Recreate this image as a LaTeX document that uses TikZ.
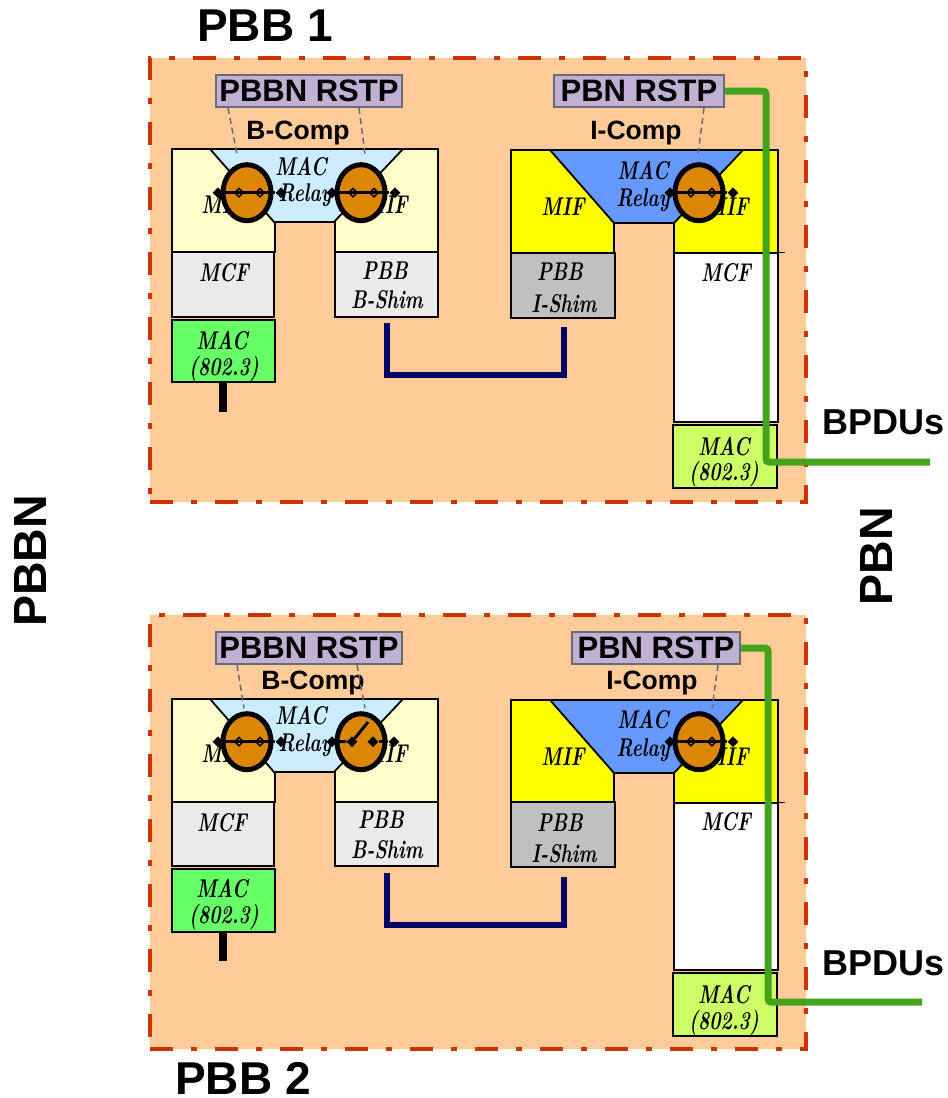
\documentclass[tikz,border=0pt]{standalone}
\usepackage{fontspec}
\newfontfamily\labelfont{Liberation Sans}
\definecolor{pborange}{RGB}{255,204,153}
\definecolor{pbred}{RGB}{204,51,0}
\definecolor{pbviolet}{RGB}{192,176,212}
\definecolor{pbgray}{RGB}{105,105,120}
\definecolor{pbgreen}{RGB}{68,163,28}
\definecolor{pbnavy}{RGB}{0,0,102}
\definecolor{swamber}{RGB}{219,135,5}
\definecolor{cream}{RGB}{255,255,204}
\definecolor{paleblue}{RGB}{204,236,255}
\definecolor{midblue}{RGB}{102,153,255}
\definecolor{pureyellow}{RGB}{255,255,0}
\definecolor{macgreen}{RGB}{102,255,102}
\definecolor{maclime}{RGB}{204,255,102}
\definecolor{mcfgray}{RGB}{234,234,234}
\definecolor{shimgray}{RGB}{192,192,192}
\usetikzlibrary{arrows.meta,positioning,shapes.geometric,calc}
\tikzset{
  panelbox/.style={draw=pbred, fill=pborange, line width=4pt, dash pattern=on 23pt off 18pt on 6pt off 18pt, minimum width=656pt, inner sep=0pt},
  rstpbox/.style={draw=pbgray, fill=pbviolet, line width=2pt, minimum height=32pt, inner sep=0pt, font=\labelfont\bfseries\fontsize{31}{31}\selectfont},
  bigtitle/.style={font=\labelfont\bfseries\fontsize{46}{46}\selectfont, inner sep=0pt},
  sidetitle/.style={font=\labelfont\bfseries\fontsize{46.5}{46.5}\selectfont, inner sep=0pt, rotate=90},
  comptitle/.style={font=\labelfont\bfseries\fontsize{26.5}{26.5}\selectfont, inner sep=0pt},
  bpdutitle/.style={font=\labelfont\bfseries\fontsize{36}{36}\selectfont, inner sep=0pt},
  scriptlabel/.style={font=\bfseries\itshape\fontsize{19}{19}\selectfont, inner sep=0pt, yscale=1.35, transform shape},
  stackbox/.style={draw=black, line width=1.8pt, inner sep=0pt},
  ubox/.style={draw=black, line width=1.8pt},
  switchbody/.style={ellipse, draw=black, fill=swamber, line width=5pt, minimum width=48pt, minimum height=56pt, inner sep=0pt},
  pinend/.style={diamond, fill=black, minimum size=11pt, inner sep=0pt},
  pinmid/.style={diamond, draw=black, fill=swamber, line width=1.5pt, minimum size=9pt, inner sep=0pt},
  contact/.style={line width=3pt, black},
  rstplink/.style={draw=pbgray, line width=1.5pt, dash pattern=on 6pt off 4pt},
  bpduline/.style={draw=pbgreen, line width=7pt, rounded corners=3pt},
  shimlink/.style={draw=pbnavy, line width=6pt},
}
\begin{document}
\begin{tikzpicture}[x=1pt, y=-1pt]
  \useasboundingbox (0,0) rectangle (948,1098);
  \fill[white] (0,0) rectangle (948,1098);
  % panels
  \node[panelbox, minimum height=444pt] (pbbone) at (478,280) {};
  \node[panelbox, minimum height=434pt] (pbbtwo) at (478,832) {};
  \node[bigtitle] (titleone) at (265,26) {PBB 1};
  \node[bigtitle] (titletwo) at (243,1078) {PBB 2};
  \node[sidetitle] (pbbn) at (31,561) {PBBN};
  \node[sidetitle] (pbn) at (876,556) {PBN};

  % PBB 1 B-Comp
  \draw[ubox, fill=cream] (172,149) -- (438,149) -- (438,252) -- (335,252) -- (335,222) -- (275,222) -- (275,252) -- (172,252) -- cycle;
  \draw[ubox, fill=paleblue] (210,149) -- (403,149) -- (334,222) -- (274,222) -- cycle;
  \node[stackbox, fill=mcfgray, minimum width=102pt, minimum height=65pt] (mcfb) at (223,284.5) {};
  \node[stackbox, fill=mcfgray, minimum width=103pt, minimum height=65pt] (bshim) at (386.5,284.5) {};
  \node[stackbox, fill=macgreen, minimum width=103pt, minimum height=62pt] (macb) at (223.5,351) {};
  \node[scriptlabel] (mifba) at (223,205) {MIF};
  \node[scriptlabel] (mifbb) at (386,205) {MIF};
  \node[scriptlabel] (relaya) at (301,167) {MAC};
  \node[scriptlabel] (relayb) at (305,195) {Relay};
  \node[scriptlabel] (mcfbt) at (224,273) {MCF};
  \node[scriptlabel] (shimat) at (385,271) {PBB};
  \node[scriptlabel] (shimbt) at (387,300) {B-Shim};
  \node[scriptlabel] (macba) at (222,341) {MAC};
  \node[scriptlabel] (macbb) at (224,369) {(802.3)};
  \fill[black] (219,382) rectangle (227,412);
  % PBB 1 I-Comp
  \draw[ubox, fill=pureyellow] (511,150) -- (778,150) -- (778,253) -- (674,253) -- (674,223) -- (614,223) -- (614,253) -- (511,253) -- cycle;
  \draw[ubox, fill=midblue] (550,150) -- (743,150) -- (674,223) -- (614,223) -- cycle;
  \node[stackbox, fill=shimgray, minimum width=104pt, minimum height=65pt] (ishim) at (563,285.5) {};
  \node[stackbox, fill=white, minimum width=104pt, minimum height=169pt] (mcfi) at (726,337.5) {};
  \node[stackbox, fill=maclime, minimum width=104pt, minimum height=63pt] (maci) at (725,456.5) {};
  \draw[black, line width=1.2pt] (mcfi.north east) -- ++(6,0);
  \node[scriptlabel] (mifia) at (563,207) {MIF};
  \node[scriptlabel] (mifib) at (727,207) {MIF};
  \node[scriptlabel] (relayc) at (643,171) {MAC};
  \node[scriptlabel] (relayd) at (643,200) {Relay};
  \node[scriptlabel] (shimct) at (560,272) {PBB};
  \node[scriptlabel] (shimdt) at (564,304) {I-Shim};
  \node[scriptlabel] (mcfit) at (726,273) {MCF};
  \node[scriptlabel] (macia) at (724,447) {MAC};
  \node[scriptlabel] (macib) at (724,474) {(802.3)};
  \coordinate (linkb) at (386.5,323);
  \coordinate (linki) at (564,327);
  \draw[shimlink] (linkb) -- ++(0,52) -| (linki);

  % PBB 2 B-Comp
  \draw[ubox, fill=cream] (172,699) -- (438,699) -- (438,802) -- (335,802) -- (335,772) -- (275,772) -- (275,802) -- (172,802) -- cycle;
  \draw[ubox, fill=paleblue] (210,699) -- (403,699) -- (334,772) -- (274,772) -- cycle;
  \node[stackbox, fill=mcfgray, minimum width=102pt, minimum height=64pt] (mcfbb) at (223,834) {};
  \node[stackbox, fill=mcfgray, minimum width=103pt, minimum height=64pt] (bshimb) at (386.5,834) {};
  \node[stackbox, fill=macgreen, minimum width=103pt, minimum height=63pt] (macbb2) at (223.5,900.5) {};
  \node[scriptlabel] (mifca) at (223,754) {MIF};
  \node[scriptlabel] (mifcb) at (386,754) {MIF};
  \node[scriptlabel] (relaye) at (301,716) {MAC};
  \node[scriptlabel] (relayf) at (305,745) {Relay};
  \node[scriptlabel] (mcfct) at (222,823) {MCF};
  \node[scriptlabel] (shimet) at (381,820) {PBB};
  \node[scriptlabel] (shimft) at (387,850) {B-Shim};
  \node[scriptlabel] (macca) at (222,889) {MAC};
  \node[scriptlabel] (maccb) at (224,917) {(802.3)};
  \fill[black] (219,932) rectangle (227,961);
  % PBB 2 I-Comp
  \draw[ubox, fill=pureyellow] (511,700) -- (778,700) -- (778,803) -- (674,803) -- (674,773) -- (614,773) -- (614,803) -- (511,803) -- cycle;
  \draw[ubox, fill=midblue] (550,700) -- (743,700) -- (674,773) -- (614,773) -- cycle;
  \node[stackbox, fill=shimgray, minimum width=104pt, minimum height=65pt] (ishimb) at (563,834.5) {};
  \node[stackbox, fill=white, minimum width=104pt, minimum height=167pt] (mcfib) at (726,886.5) {};
  \node[stackbox, fill=maclime, minimum width=104pt, minimum height=63pt] (macib2) at (725,1004.5) {};
  \draw[black, line width=1.2pt] (mcfib.north east) -- ++(6,0);
  \node[scriptlabel] (mifda) at (563,757) {MIF};
  \node[scriptlabel] (mifdb) at (727,757) {MIF};
  \node[scriptlabel] (relayg) at (643,720) {MAC};
  \node[scriptlabel] (relayh) at (643,750) {Relay};
  \node[scriptlabel] (shimgt) at (560,823) {PBB};
  \node[scriptlabel] (shimht) at (564,854) {I-Shim};
  \node[scriptlabel] (mcfdt) at (726,822) {MCF};
  \node[scriptlabel] (macda) at (724,995) {MAC};
  \node[scriptlabel] (macdb) at (724,1023) {(802.3)};
  \coordinate (linkbb) at (386.5,873);
  \coordinate (linkib) at (564,877);
  \draw[shimlink] (linkbb) -- ++(0,52) -| (linkib);

  % closed relay ports
  \foreach \sw/\px/\py in {swa/247/192.7, swb/361/192.7, swc/699/192.7, swd/247/741.7, swf/699/741.7}{
    \node[switchbody] (\sw) at (\px,\py) {};
    \node[pinend] (\sw p) at (\px-29,\py) {};
    \node[pinmid] (\sw q) at (\px-8,\py) {};
    \node[pinmid] (\sw r) at (\px+13,\py) {};
    \node[pinend] (\sw s) at (\px+34,\py) {};
    \draw[contact] (\sw p) -- (\sw s);
  }
  % open relay port
  \node[switchbody] (swe) at (361,741.7) {};
  \node[pinend] (swep) at (332,741.7) {};
  \node[pinend] (sweq) at (352,741.7) {};
  \node[pinend] (swer) at (373,741.7) {};
  \node[pinend] (swes) at (394,741.7) {};
  \coordinate (swetip) at (368,722);
  \draw[contact] (swep) -- (sweq) -- (swetip);
  \draw[contact] (swer) -- (swes);

  % RSTP boxes
  \node[rstpbox, minimum width=186pt] (bbrstpa) at (309,91) {PBBN RSTP};
  \node[rstpbox, minimum width=170pt] (pbrstpa) at (639,91) {PBN RSTP};
  \node[rstpbox, minimum width=186pt] (bbrstpb) at (309,648) {PBBN RSTP};
  \node[rstpbox, minimum width=168pt] (pbrstpb) at (656,648) {PBN RSTP};
  \node[comptitle] (compa) at (298,133) {B-Comp};
  \node[comptitle] (compb) at (636,133) {I-Comp};
  \node[comptitle] (compc) at (313,683) {B-Comp};
  \node[comptitle] (compd) at (652,683) {I-Comp};
  \draw[rstplink] ([xshift=-81pt]bbrstpa.south) -- ([shift={(-10,-8)}]swa.north);
  \draw[rstplink] ([xshift=50pt]bbrstpa.south) -- ([shift={(4,-8)}]swb.north);
  \draw[rstplink] ([xshift=65pt]pbrstpa.south) -- ([shift={(-1,-8)}]swc.north);
  \draw[rstplink] ([xshift=-72pt]bbrstpb.south) -- ([shift={(-3,-3)}]swd.north);
  \draw[rstplink] ([xshift=48pt]bbrstpb.south) -- ([shift={(4,-3)}]swe.north);
  \draw[rstplink] ([xshift=62pt]pbrstpb.south) -- ([shift={(13,-3)}]swf.north);

  % BPDU paths
  \coordinate (bpduenda) at (930,462);
  \coordinate (bpduendb) at (922,1002);
  \draw[bpduline] (pbrstpa.east) -- ++(41,0) |- (bpduenda);
  \draw[bpduline] (pbrstpb.east) -- ++(27,0) |- (bpduendb);
  \node[bpdutitle] (bpdua) at (884,422) {BPDUs};
  \node[bpdutitle] (bpdub) at (884,963) {BPDUs};
\end{tikzpicture}
\end{document}
